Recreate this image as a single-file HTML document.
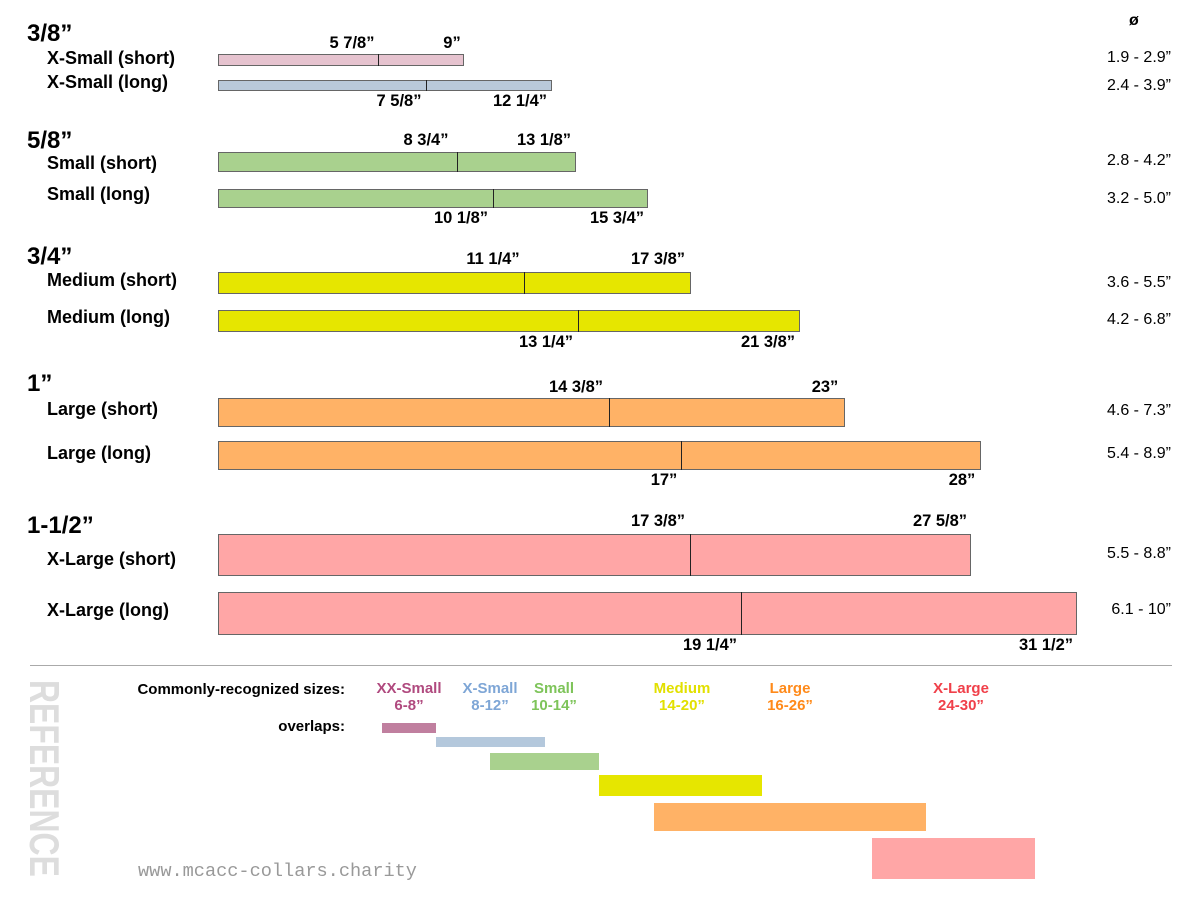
<!DOCTYPE html>
<html><head><meta charset="utf-8"><style>
body{margin:0;width:1200px;height:900px;background:#fff;position:relative;overflow:hidden;font-family:"Liberation Sans",sans-serif;}
div{position:absolute;}
.h{font-weight:bold;font-size:24px;left:27px;color:#000;}
.s{font-weight:bold;font-size:18px;left:47px;color:#000;}
.r{font-size:16px;right:29px;color:#000;}
.bar{border:1px solid #666;box-sizing:border-box;}
.tk{width:1px;background:#222;}
.l{font-weight:bold;font-size:16.5px;transform:translateX(-50%);white-space:nowrap;}
.c{font-weight:bold;font-size:15px;text-align:center;transform:translateX(-50%);line-height:17px;}
</style></head><body>
<div style="left:1129px;top:12px;font-size:16px;font-weight:bold">ø</div>

<div class="h" style="top:20px">3/8”</div>
<div class="s" style="top:48px">X-Small (short)</div>
<div class="s" style="top:72px">X-Small (long)</div>
<div class="h" style="top:127px">5/8”</div>
<div class="s" style="top:153px">Small (short)</div>
<div class="s" style="top:184px">Small (long)</div>
<div class="h" style="top:243px">3/4”</div>
<div class="s" style="top:270px">Medium (short)</div>
<div class="s" style="top:307px">Medium (long)</div>
<div class="h" style="top:370px">1”</div>
<div class="s" style="top:399px">Large (short)</div>
<div class="s" style="top:443px">Large (long)</div>
<div class="h" style="top:512px">1-1/2”</div>
<div class="s" style="top:549px">X-Large (short)</div>
<div class="s" style="top:600px">X-Large (long)</div>

<div class="r" style="top:49px">1.9 - 2.9”</div>
<div class="r" style="top:77px">2.4 - 3.9”</div>
<div class="r" style="top:152px">2.8 - 4.2”</div>
<div class="r" style="top:190px">3.2 - 5.0”</div>
<div class="r" style="top:274px">3.6 - 5.5”</div>
<div class="r" style="top:311px">4.2 - 6.8”</div>
<div class="r" style="top:402px">4.6 - 7.3”</div>
<div class="r" style="top:445px">5.4 - 8.9”</div>
<div class="r" style="top:545px">5.5 - 8.8”</div>
<div class="r" style="top:601px">6.1 - 10”</div>

<div class="bar" style="left:218px;top:54px;width:246px;height:12px;background:#e6c3cf"></div><div class="tk" style="left:378px;top:54px;height:12px"></div>
<div class="bar" style="left:218px;top:80px;width:334px;height:11px;background:#b9c9da"></div><div class="tk" style="left:426px;top:80px;height:11px"></div>
<div class="bar" style="left:218px;top:152px;width:358px;height:20px;background:#a9d18e"></div><div class="tk" style="left:457px;top:152px;height:20px"></div>
<div class="bar" style="left:218px;top:189px;width:430px;height:19px;background:#a9d18e"></div><div class="tk" style="left:493px;top:189px;height:19px"></div>
<div class="bar" style="left:218px;top:272px;width:473px;height:22px;background:#e6e600"></div><div class="tk" style="left:524px;top:272px;height:22px"></div>
<div class="bar" style="left:218px;top:310px;width:582px;height:22px;background:#e6e600"></div><div class="tk" style="left:578px;top:310px;height:22px"></div>
<div class="bar" style="left:218px;top:398px;width:627px;height:29px;background:#ffb266"></div><div class="tk" style="left:609px;top:398px;height:29px"></div>
<div class="bar" style="left:218px;top:441px;width:763px;height:29px;background:#ffb266"></div><div class="tk" style="left:681px;top:441px;height:29px"></div>
<div class="bar" style="left:218px;top:534px;width:753px;height:42px;background:#ffa6a6"></div><div class="tk" style="left:690px;top:534px;height:42px"></div>
<div class="bar" style="left:218px;top:592px;width:859px;height:43px;background:#ffa6a6"></div><div class="tk" style="left:741px;top:592px;height:43px"></div>

<div class="l" style="left:352px;top:34px">5 7/8”</div><div class="l" style="left:452px;top:34px">9”</div>
<div class="l" style="left:399px;top:92px">7 5/8”</div><div class="l" style="left:520px;top:92px">12 1/4”</div>
<div class="l" style="left:426px;top:131px">8 3/4”</div><div class="l" style="left:544px;top:131px">13 1/8”</div>
<div class="l" style="left:461px;top:209px">10 1/8”</div><div class="l" style="left:617px;top:209px">15 3/4”</div>
<div class="l" style="left:493px;top:250px">11 1/4”</div><div class="l" style="left:658px;top:250px">17 3/8”</div>
<div class="l" style="left:546px;top:333px">13 1/4”</div><div class="l" style="left:768px;top:333px">21 3/8”</div>
<div class="l" style="left:576px;top:378px">14 3/8”</div><div class="l" style="left:825px;top:378px">23”</div>
<div class="l" style="left:664px;top:471px">17”</div><div class="l" style="left:962px;top:471px">28”</div>
<div class="l" style="left:658px;top:512px">17 3/8”</div><div class="l" style="left:940px;top:512px">27 5/8”</div>
<div class="l" style="left:710px;top:636px">19 1/4”</div><div class="l" style="left:1046px;top:636px">31 1/2”</div>

<div style="left:30px;top:665px;width:1142px;height:1px;background:#aaa"></div>

<div style="left:24px;top:680px;writing-mode:vertical-rl;font-size:42px;font-weight:bold;color:#ddd;line-height:40px;transform:scaleY(0.76);transform-origin:top left">REFERENCE</div>

<div style="right:855px;top:681px;font-weight:bold;font-size:15px">Commonly-recognized sizes:</div>
<div style="right:855px;top:718px;font-weight:bold;font-size:15px">overlaps:</div>
<div class="c" style="left:409px;top:680px;color:#b04a7f">XX-Small<br>6-8”</div>
<div class="c" style="left:490px;top:680px;color:#7ea6d6">X-Small<br>8-12”</div>
<div class="c" style="left:554px;top:680px;color:#7ec45a">Small<br>10-14”</div>
<div class="c" style="left:682px;top:680px;color:#e2e000">Medium<br>14-20”</div>
<div class="c" style="left:790px;top:680px;color:#ff8a1a">Large<br>16-26”</div>
<div class="c" style="left:961px;top:680px;color:#f0404a">X-Large<br>24-30”</div>

<div style="left:382px;top:723px;width:54px;height:10px;background:#c07f9f"></div>
<div style="left:436px;top:737px;width:109px;height:10px;background:#b4c8dc"></div>
<div style="left:490px;top:753px;width:109px;height:17px;background:#a9d18e"></div>
<div style="left:599px;top:775px;width:163px;height:21px;background:#e6e600"></div>
<div style="left:654px;top:803px;width:272px;height:28px;background:#ffb266"></div>
<div style="left:872px;top:838px;width:163px;height:41px;background:#ffa6a6"></div>

<div style="left:138px;top:861px;font-family:'Liberation Mono',monospace;font-size:18.6px;color:#999">www.mcacc-collars.charity</div>
</body></html>
